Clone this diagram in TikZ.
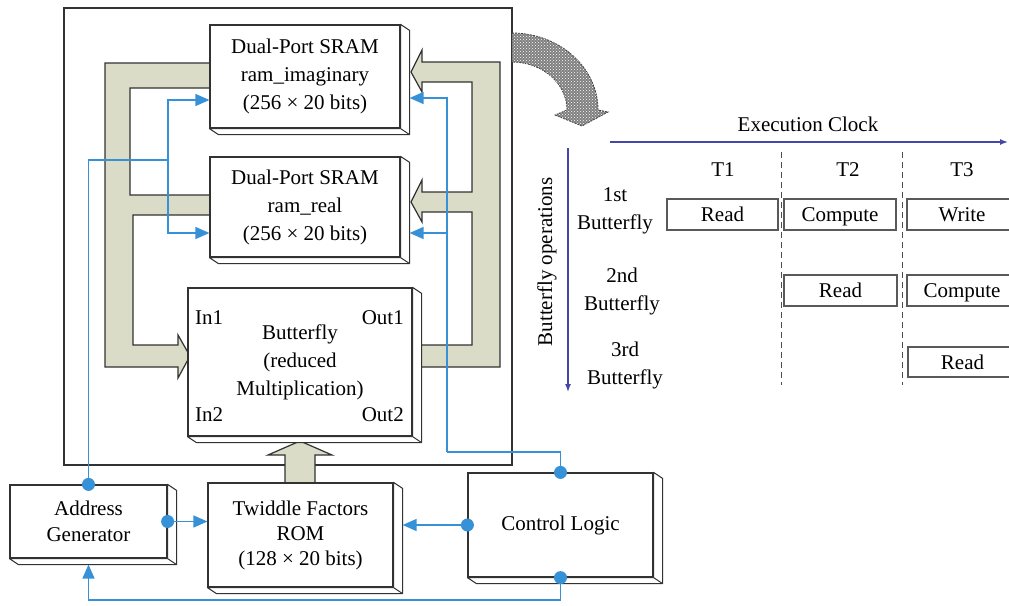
\documentclass[tikz,border=0pt]{standalone}
\usepackage{fontspec}
\setmainfont{Liberation Serif}
\usetikzlibrary{arrows.meta,patterns,calc}
\definecolor{olivefill}{RGB}{218,220,200}
\definecolor{wire}{RGB}{55,145,215}
\definecolor{axiscol}{RGB}{70,70,170}
\definecolor{edge}{RGB}{50,50,50}
\begin{document}
\begin{tikzpicture}[x=1pt,y=-1pt,
  every node/.style={font=\fontsize{21}{28}\selectfont, inner sep=0pt},
  blk/.style={draw=edge, fill=white, line width=1.2pt, align=center},
  chan/.style={draw=edge, fill=olivefill, line width=1.2pt, line join=miter},
  wireln/.style={draw=wire, line width=1.4pt},
  warrow/.style={wireln, -{Triangle[length=14pt,width=12pt]}},
  dot/.style={circle, fill=wire, minimum size=13pt, inner sep=0pt},
  tbox/.style={draw=black!65, line width=1.1pt, minimum height=31pt, text height=15pt, text depth=1pt},
  axisln/.style={draw=axiscol, line width=1.4pt, -{Latex[length=8pt,width=6pt]}},
  dashln/.style={draw=black!70, line width=1pt, dash pattern=on 6pt off 4pt},
  extr/.style={draw=edge, fill=white, line width=1pt, line join=round}
  ]
\path[use as bounding box] (0,0) rectangle (1009,605);
\clip (0,0) rectangle (1009,605);

% outer frame
\node[draw=edge, line width=1.4pt, minimum width=448pt, minimum height=457pt] (outer) at (288,236.5) {};

% olive channels
\draw[chan] (210,63) -- (105,63) -- (105,367) -- (178,367) -- (178,378) -- (190,356) -- (178,335) -- (178,345) -- (133,345) -- (133,215) -- (210,215) -- (210,195) -- (130,195) -- (130,88) -- (210,88) -- cycle;
\draw[chan] (422,62) -- (500,62) -- (500,367) -- (420,367) -- (420,345) -- (472,345) -- (472,212) -- (422,212) -- (422,222) -- (411,202) -- (422,180) -- (422,192) -- (472,192) -- (472,82) -- (422,82) -- (422,92) -- (411,72) -- (422,50) -- cycle;
\draw[chan] (285,484) -- (285,455) -- (268,455) -- (300,441) -- (332,455) -- (315,455) -- (315,484);

% blocks
\node[blk, minimum width=190pt, minimum height=103pt] (sramI) at (305,76.5) {Dual-Port SRAM\\ram\_imaginary\\(256 × 20 bits)};
\node[blk, minimum width=190pt, minimum height=100pt] (sramR) at (305,207) {Dual-Port SRAM\\ram\_real\\(256 × 20 bits)};
\node[blk, minimum width=224pt, minimum height=148pt] (bfly) at (300,362) {Butterfly\\(reduced\\Multiplication)};
\node[blk, minimum width=157pt, minimum height=73pt, font=\fontsize{21}{26}\selectfont] (addr) at (88.5,521.5) {Address\\Generator};
\node[blk, minimum width=185pt, minimum height=104pt, font=\fontsize{21}{25}\selectfont] (rom) at (300.5,535) {Twiddle Factors\\ROM\\(128 × 20 bits)};
\node[blk, minimum width=185pt, minimum height=104pt] (ctrl) at (560.5,525) {Control Logic};

\foreach \n in {sramI,sramR,bfly,addr,rom,ctrl}{
  \draw[extr] (\n.north east) -- ++(9,6) -- ([shift={(9,6)}]\n.south east) -- ([shift={(9,6)}]\n.south west) -- (\n.south west) -- (\n.south east) -- cycle;
  \draw[extr] (\n.south east) -- ++(9,6);
}

% port labels
\node[anchor=west] (in1) at (195,318) {In1};
\node[anchor=west] (in2) at (195,415) {In2};
\node[anchor=east] (out1) at (404,318) {Out1};
\node[anchor=east] (out2) at (404,415) {Out2};

% curved patterned arrow
\draw[draw=black!75, line width=0.8pt, dash pattern=on 2pt off 1pt, fill=black!50,
      postaction={pattern=crosshatch dots, pattern color=white}]
  (512,33) .. controls (559.5,33) and (598,67.5) .. (598,110) -- (608,112) -- (582,126) -- (555,115) -- (567,110)
  .. controls (567,83.5) and (542.4,62) .. (512,62) -- cycle;

% blue wires
\coordinate (jL) at (168,160);
\coordinate (jR) at (447,452);
\coordinate (jR2) at (447,233);
\coordinate (jB) at (88.5,600);
\coordinate (sramIx) at ([xshift=9pt]sramI.east);
\coordinate (sramRx) at ([xshift=9pt]sramR.east);
\coordinate (romx) at ([xshift=9pt]rom.east);
\coordinate (addrx) at ([yshift=-6pt]addr.south);

\draw[wireln] (addr.north) |- (jL);
\draw[warrow] (jL) |- (sramI.west |- 0,100);
\draw[warrow] (jL) |- (sramR.west |- 0,233);
\draw[wireln] (ctrl.north) |- (jR);
\draw[warrow] (jR) |- (sramIx |- 0,98);
\draw[warrow] (jR2) -- (sramRx |- jR2);
\draw[warrow] (addr.east) -- (rom.west |- addr.east);
\draw[warrow] (ctrl.west) -- (romx |- ctrl.west);
\draw[warrow] (ctrl.south) |- (jB) -- (addrx);

\node[dot] (d1) at (addr.north) {};
\node[dot] (d2) at (addr.east) {};
\node[dot] (d3) at (ctrl.west) {};
\node[dot] (d4) at (ctrl.north) {};
\node[dot] (d5) at (ctrl.south) {};

% timing chart
\node (clk) at (808,124) {Execution Clock};
\coordinate (hx0) at (610,142);
\coordinate (hx1) at (1008,142);
\draw[axisln] (hx0) -- (hx1);
\coordinate (vy0) at (568,148);
\coordinate (vy1) at (568,392);
\draw[axisln] (vy0) -- (vy1);
\node[rotate=90] (bops) at (547,262) {Butterfly operations};

\node (t1) at (723,170) {T1};
\node (t2) at (848,170) {T2};
\node (t3) at (962,170) {T3};
\draw[dashln] (781,152) -- (781,385);
\draw[dashln] (902,152) -- (902,385);

\node[align=center] (r1) at (615,211) {1st\\Butterfly};
\node[align=center] (r2) at (622,291) {2nd\\Butterfly};
\node[align=center] (r3) at (625,365) {3rd\\Butterfly};

\node[tbox, minimum width=111pt] (rd1) at (722.5,214.5) {Read};
\node[tbox, minimum width=112pt] (cp1) at (840,214.5) {Compute};
\node[tbox, minimum width=110pt] (wr1) at (962,214.5) {Write};
\node[tbox, minimum width=113pt] (rd2) at (840.5,290.5) {Read};
\node[tbox, minimum width=110pt] (cp2) at (962,290.5) {Compute};
\node[tbox, minimum width=109pt, minimum height=30pt] (rd3) at (962.5,362) {Read};
\end{tikzpicture}
\end{document}
